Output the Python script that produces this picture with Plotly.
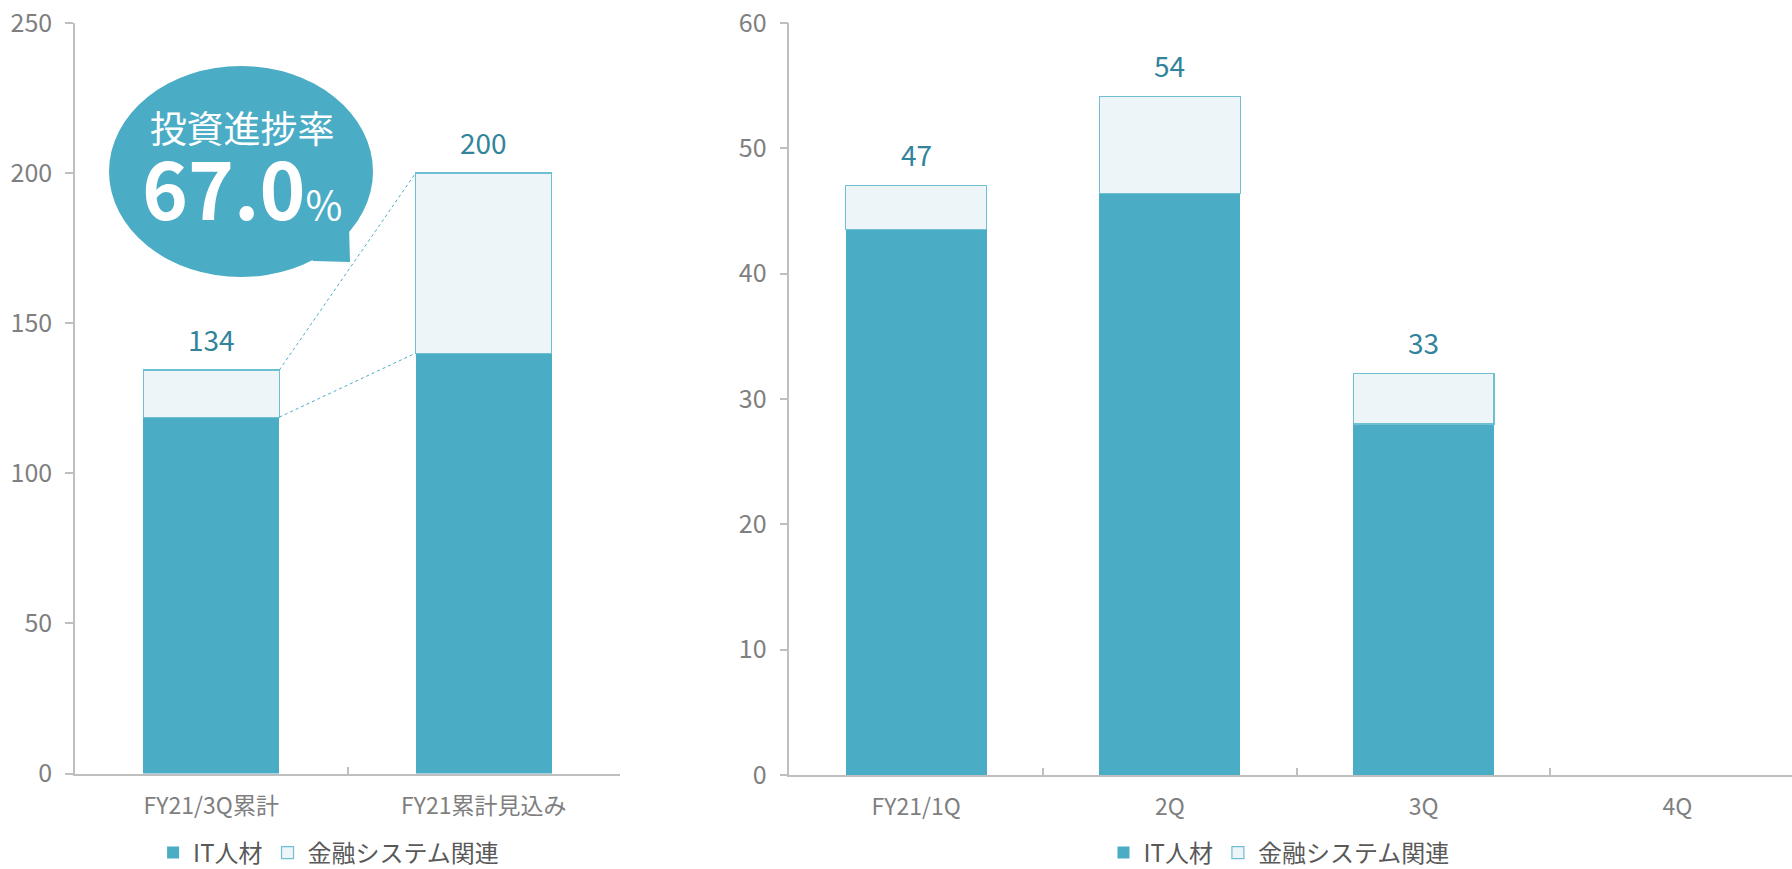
import plotly.graph_objects as go

W, H = 1792, 869

# ---------------- data ----------------
series_names = ["IT人材", "金融システム関連"]

left_categories = ["FY21/3Q累計", "FY21累計見込み"]
left_it = [118.7, 140.0]
left_fin = [15.7, 60.0]
left_labels = ["134", "200"]

right_categories = ["FY21/1Q", "2Q", "3Q", "4Q"]
right_it = [43.5, 46.4, 28.0, None]
right_fin = [3.5, 7.7, 4.0, None]
right_labels = ["47", "54", "33", ""]

left_ticks = [0, 50, 100, 150, 200, 250]
right_ticks = [0, 10, 20, 30, 40, 50, 60]

bubble_title = "投資進捗率"
bubble_value = "67.0"
bubble_unit = "%"

# ---------------- styles ----------------
FONT = "Noto Sans CJK JP"
C_IT = "#4BACC6"
C_FIN = "#EDF5F9"
C_FIN_LINE = "#6FBFD3"
C_LABEL = "#31849B"
C_TICK = "#7F7F7F"
C_AXIS = "#BFBFBF"
C_LEGEND = "#595959"
LEFT_BAR_W = 0.5
RIGHT_BAR_W = 0.555


def px(x):
    return x / W


def py(y):
    return 1 - y / H


fig = go.Figure()

# left chart
fig.add_trace(go.Bar(x=left_categories, y=left_it, name=series_names[0], width=LEFT_BAR_W,
                     marker=dict(color=C_IT, line=dict(width=0)), xaxis="x", yaxis="y",
                     legend="legend"))
fig.add_trace(go.Bar(x=left_categories, y=left_fin, name=series_names[1], width=LEFT_BAR_W,
                     marker=dict(color=C_FIN, line=dict(color=C_FIN_LINE, width=1.2)),
                     xaxis="x", yaxis="y", legend="legend"))
# right chart
fig.add_trace(go.Bar(x=right_categories, y=right_it, name=series_names[0], width=RIGHT_BAR_W,
                     marker=dict(color=C_IT, line=dict(width=0)), xaxis="x2", yaxis="y2",
                     legend="legend2"))
fig.add_trace(go.Bar(x=right_categories, y=right_fin, name=series_names[1], width=RIGHT_BAR_W,
                     marker=dict(color=C_FIN, line=dict(color=C_FIN_LINE, width=1.2)),
                     xaxis="x2", yaxis="y2", legend="legend2"))

left_totals = [a + b for a, b in zip(left_it, left_fin)]
right_totals = [(a + b) if a is not None else None for a, b in zip(right_it, right_fin)]

annotations = []
for c, t, lab in zip(left_categories, left_totals, left_labels):
    annotations.append(dict(x=c, y=t, xref="x", yref="y", text=lab, showarrow=False,
                            yanchor="middle", yshift=31,
                            font=dict(family=FONT, size=28, color=C_LABEL)))
for c, t, lab in zip(right_categories, right_totals, right_labels):
    if t is None or not lab:
        continue
    annotations.append(dict(x=c, y=t, xref="x2", yref="y2", text=lab, showarrow=False,
                            yanchor="middle", yshift=32,
                            font=dict(family=FONT, size=28, color=C_LABEL)))

# bubble text (one two-line text block)
bubble_text = ("<span style='font-size:37px'>" + bubble_title + "</span><br>"
               "<span style='font-size:78px;font-weight:bold'>" + bubble_value + "</span>"
               "<span style='font-size:40px'>" + bubble_unit + "</span>")
annotations.append(dict(x=px(242), y=py(171), xref="paper", yref="paper", text=bubble_text,
                        showarrow=False, xanchor="center", yanchor="middle", align="center",
                        font=dict(family=FONT, size=59, color="white")))

shapes = []
# connector lines between left bars
half = LEFT_BAR_W / 2
shapes.append(dict(type="line", xref="x", yref="y", x0=0 + half, y0=left_totals[0],
                   x1=1 - half, y1=left_totals[1],
                   line=dict(color=C_IT, width=1, dash="dot")))
shapes.append(dict(type="line", xref="x", yref="y", x0=0 + half, y0=left_it[0],
                   x1=1 - half, y1=left_it[1],
                   line=dict(color=C_IT, width=1, dash="dot")))
# speech bubble
shapes.append(dict(type="circle", xref="paper", yref="paper",
                   x0=px(109), x1=px(373), y0=py(277), y1=py(66),
                   fillcolor=C_IT, line=dict(width=0)))
shapes.append(dict(type="path", xref="paper", yref="paper",
                   path=f"M {px(300)},{py(240)} L {px(349)},{py(226)} L {px(350)},{py(262)} L {px(313)},{py(261)} Z",
                   fillcolor=C_IT, line=dict(width=0)))

xaxis_common = dict(type="category", showline=True, linecolor=C_AXIS, linewidth=1.5,
                    ticks="inside", tickson="boundaries", ticklen=7, tickcolor=C_AXIS,
                    tickwidth=1.5, showgrid=False, zeroline=False, ticklabelstandoff=11,
                    automargin=False,
                    tickfont=dict(family=FONT, size=23, color=C_TICK), fixedrange=True)
yaxis_common = dict(showline=True, linecolor=C_AXIS, linewidth=1.5, ticks="outside",
                    ticklen=8, tickcolor=C_AXIS, tickwidth=1.5, showgrid=False,
                    zeroline=False, ticklabelstandoff=8, automargin=False,
                    tickfont=dict(family=FONT, size=25, color=C_TICK), fixedrange=True)

legend_common = dict(orientation="h", xanchor="center", yanchor="middle", y=py(853),
                     font=dict(family=FONT, size=24, color=C_LEGEND),
                     bgcolor="rgba(0,0,0,0)", traceorder="normal", itemwidth=30)

fig.update_layout(
    width=W, height=H, autosize=False,
    margin=dict(l=0, r=0, t=0, b=0, pad=0, autoexpand=False),
    paper_bgcolor="white", plot_bgcolor="white",
    barmode="stack", bargap=0.45,
    font=dict(family=FONT),
    xaxis=dict(domain=[px(75), px(620)], anchor="y", range=[-0.5, 1.5],
               categoryorder="array", categoryarray=left_categories, **xaxis_common),
    yaxis=dict(domain=[py(773.5), py(22.9)], anchor="x", range=[0, 250],
               tickvals=left_ticks, **yaxis_common),
    xaxis2=dict(domain=[px(789.3), 1.0], anchor="y2", range=[-0.5, 3.452],
                categoryorder="array", categoryarray=right_categories, **xaxis_common),
    yaxis2=dict(domain=[py(775), py(22.9)], anchor="x2", range=[0, 60],
                tickvals=right_ticks, **yaxis_common),
    legend=dict(x=px(328.6), **legend_common),
    legend2=dict(x=px(1279), **legend_common),
    annotations=annotations,
    shapes=shapes,
    showlegend=True,
)

fig.write_html("out.html")
